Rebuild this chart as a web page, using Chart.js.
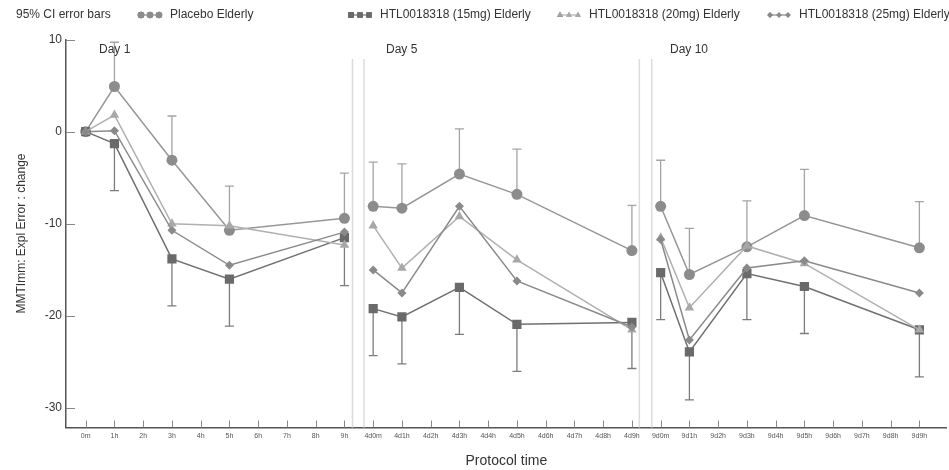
<!DOCTYPE html>
<html>
<head>
<meta charset="utf-8">
<script src="https://cdn.jsdelivr.net/npm/chart.js@4/dist/chart.umd.min.js"></script>
<style>
  html, body { margin: 0; padding: 0; background: #fff; }
  #wrap { width: 949px; height: 470px; position: relative; }
</style>
</head>
<body>
<div id="wrap"><canvas id="chart"></canvas></div>
<script>
// Protocol time categories (one tick each)
const timeLabels = ['0m', '1h', '2h', '3h', '4h', '5h', '6h', '7h', '8h', '9h',
  '4d0m', '4d1h', '4d2h', '4d3h', '4d4h', '4d5h', '4d6h', '4d7h', '4d8h', '4d9h',
  '9d0m', '9d1h', '9d2h', '9d3h', '9d4h', '9d5h', '9d6h', '9d7h', '9d8h', '9d9h'];
const dayLabels = ['Day 1', 'Day 5', 'Day 10'];

// sampled time points, grouped per day
const sampleTimes = [
  ['0m', '1h', '3h', '5h', '9h'],
  ['4d0m', '4d1h', '4d3h', '4d5h', '4d9h'],
  ['9d0m', '9d1h', '9d3h', '9d5h', '9d9h']
];

// series values (change from baseline)
const placebo = [0, 4.9, -3.1, -10.7, -9.4, -8.1, -8.3, -4.6, -6.8, -12.9, -8.1, -15.5, -12.5, -9.1, -12.6];
const htl15 = [0, -1.3, -13.8, -16.0, -11.5, -19.2, -20.1, -16.9, -20.9, -20.7, -15.3, -23.9, -15.4, -16.8, -21.5];
const htl20 = [0, 1.8, -10.0, -10.2, -12.3, -10.2, -14.8, -9.2, -13.9, -21.5, -11.5, -19.1, -12.4, -14.3, -21.5];
const htl25 = [0, 0.1, -10.7, -14.5, -10.9, -15.0, -17.5, -8.1, -16.2, -21.2, -11.7, -22.6, -14.8, -14.0, -17.5];

// 95% CI bounds: placebo upper, 15mg lower
const placeboUpper = [null, 9.7, 1.7, -5.9, -4.5, -3.3, -3.5, 0.3, -1.9, -8.0, -3.1, -10.5, -7.5, -4.1, -7.6];
const htl15Lower = [null, -6.4, -18.9, -21.1, -16.7, -24.3, -25.2, -22.0, -26.0, -25.7, -20.4, -29.1, -20.4, -21.9, -26.6];

const yTicks = [10, 0, -10, -20, -30];

// build {x,y} points with a null break between days
function buildPoints(values) {
  const pts = [];
  let k = 0;
  sampleTimes.forEach((day, d) => {
    if (d > 0) pts.push({ x: timeLabels.indexOf(day[0]) - 0.5, y: null });
    day.forEach(t => {
      pts.push({ x: timeLabels.indexOf(t), y: values[k] });
      k++;
    });
  });
  return pts;
}

function flatTimes() {
  return sampleTimes.flat().map(t => timeLabels.indexOf(t));
}

const series = [
  { label: 'Placebo Elderly', data: placebo, color: '#8c8c8c', line: '#969696', style: 'circle', radius: 5.5 },
  { label: 'HTL0018318 (15mg) Elderly', data: htl15, color: '#6a6a6a', line: '#707070', style: 'rect', radius: 6.5 },
  { label: 'HTL0018318 (20mg) Elderly', data: htl20, color: '#a8a8a8', line: '#b0b0b0', style: 'triangle', radius: 5.5 },
  { label: 'HTL0018318 (25mg) Elderly', data: htl25, color: '#8a8a8a', line: '#8a8a8a', style: 'rectRot', radius: 4.5 }
];

const FONT = '"Liberation Sans", Arial, sans-serif';

// Custom drawing: error bars, day separators, inward ticks, legend
const decorations = {
  id: 'decorations',
  beforeDatasetsDraw(chart) {
    const ctx = chart.ctx;
    const xs = chart.scales.x, ys = chart.scales.y;
    const area = chart.chartArea;
    const idx = flatTimes();
    ctx.save();

    // day separators
    ctx.strokeStyle = '#dcdcdc';
    ctx.lineWidth = 1.5;
    [9.28, 9.68, 19.26, 19.69].forEach(v => {
      const px = xs.getPixelForValue(v);
      ctx.beginPath();
      ctx.moveTo(px, 59);
      ctx.lineTo(px, area.bottom);
      ctx.stroke();
    });

    // error bars
    function bars(vals, bounds, color) {
      ctx.strokeStyle = color;
      ctx.lineWidth = 1.3;
      vals.forEach((v, i) => {
        if (bounds[i] === null) return;
        const px = xs.getPixelForValue(idx[i]);
        const p0 = ys.getPixelForValue(v);
        const p1 = ys.getPixelForValue(bounds[i]);
        ctx.beginPath();
        ctx.moveTo(px, p0);
        ctx.lineTo(px, p1);
        ctx.moveTo(px - 4.5, p1);
        ctx.lineTo(px + 4.5, p1);
        ctx.stroke();
      });
    }
    bars(placebo, placeboUpper, '#a4a4a4');
    bars(htl15, htl15Lower, '#7c7c7c');
    ctx.restore();
  },
  afterDatasetsDraw(chart) {
    const ctx = chart.ctx;
    const xs = chart.scales.x, ys = chart.scales.y;
    const area = chart.chartArea;
    ctx.save();

    // inward tick marks
    ctx.strokeStyle = '#888';
    ctx.lineWidth = 1;
    timeLabels.forEach((t, i) => {
      const px = Math.round(xs.getPixelForValue(i)) + 0.5;
      ctx.beginPath();
      ctx.moveTo(px, area.bottom);
      ctx.lineTo(px, area.bottom - 7);
      ctx.stroke();
    });
    yTicks.forEach(v => {
      const py = Math.round(ys.getPixelForValue(v)) + 0.5;
      ctx.beginPath();
      ctx.moveTo(area.left, py);
      ctx.lineTo(area.left + 9, py);
      ctx.stroke();
    });

    // day labels
    ctx.fillStyle = '#333';
    ctx.font = '12px ' + FONT;
    ctx.textBaseline = 'middle';
    ctx.textAlign = 'left';
    const dayX = [99, 386, 670];
    dayLabels.forEach((d, i) => ctx.fillText(d, dayX[i], 50));

    // legend
    const legY = 15;
    ctx.fillStyle = '#333';
    ctx.fillText('95% CI error bars', 16, legY);
    const legX = [138, 348, 557, 767];
    series.forEach((s, i) => {
      const x0 = legX[i];
      ctx.strokeStyle = s.line;
      ctx.lineWidth = 1.2;
      ctx.beginPath();
      ctx.moveTo(x0 + 3, legY);
      ctx.lineTo(x0 + 21, legY);
      ctx.stroke();
      [x0 + 3, x0 + 12, x0 + 21].forEach(mx => {
        Chart.helpers.drawPoint(ctx, {
          pointStyle: s.style, radius: s.radius * 0.6, borderWidth: 0, rotation: 0
        }, mx, legY);
        ctx.fillStyle = s.color;
        ctx.fill();
      });
      ctx.fillStyle = '#333';
      ctx.fillText(s.label, x0 + 32, legY);
    });
    ctx.restore();
  }
};

const datasets = series.map(s => ({
  label: s.label,
  data: buildPoints(s.data),
  borderColor: s.line,
  backgroundColor: s.color,
  borderWidth: 1.5,
  pointStyle: s.style,
  pointRadius: s.radius,
  pointBackgroundColor: s.color,
  pointBorderColor: s.color,
  pointBorderWidth: 0,
  spanGaps: false,
  tension: 0
}));

new Chart(document.getElementById('chart'), {
  type: 'line',
  data: { datasets: datasets.reverse() },
  options: {
    responsive: true,
    maintainAspectRatio: false,
    animation: false,
    layout: { autoPadding: false, padding: { top: 39.5, right: 2.3, bottom: 0, left: 0 } },
    plugins: {
      legend: { display: false },
      tooltip: { enabled: false }
    },
    scales: {
      x: {
        type: 'linear',
        min: -0.685,
        max: 29.95,
        afterBuildTicks: scale => {
          scale.ticks = timeLabels.map((t, i) => ({ value: i }));
        },
        afterFit: scale => {
          scale.height = 42.5;
          scale.paddingLeft = 0;
          scale.paddingRight = 0;
        },
        ticks: {
          autoSkip: false,
          maxRotation: 0,
          padding: 4,
          color: '#555',
          font: { family: FONT, size: 7 },
          callback: v => timeLabels[v]
        },
        grid: { drawOnChartArea: false, drawTicks: false },
        border: { color: '#555', width: 1.5 },
        title: {
          display: true,
          text: 'Protocol time',
          color: '#333',
          padding: { top: 4, bottom: 0 },
          font: { family: FONT, size: 14 }
        }
      },
      y: {
        min: -32.1,
        max: 10,
        afterBuildTicks: scale => {
          scale.ticks = yTicks.map(v => ({ value: v }));
        },
        afterFit: scale => { scale.width = 66; },
        ticks: {
          padding: 4,
          color: '#333',
          font: { family: FONT, size: 12 }
        },
        grid: { drawOnChartArea: false, drawTicks: false },
        border: { color: '#555', width: 1.5 },
        title: {
          display: true,
          text: 'MMTImm: Expl Error : change',
          color: '#333',
          padding: { top: 14, bottom: 0 },
          font: { family: FONT, size: 12 }
        }
      }
    }
  },
  plugins: [decorations]
});
</script>
</body>
</html>
